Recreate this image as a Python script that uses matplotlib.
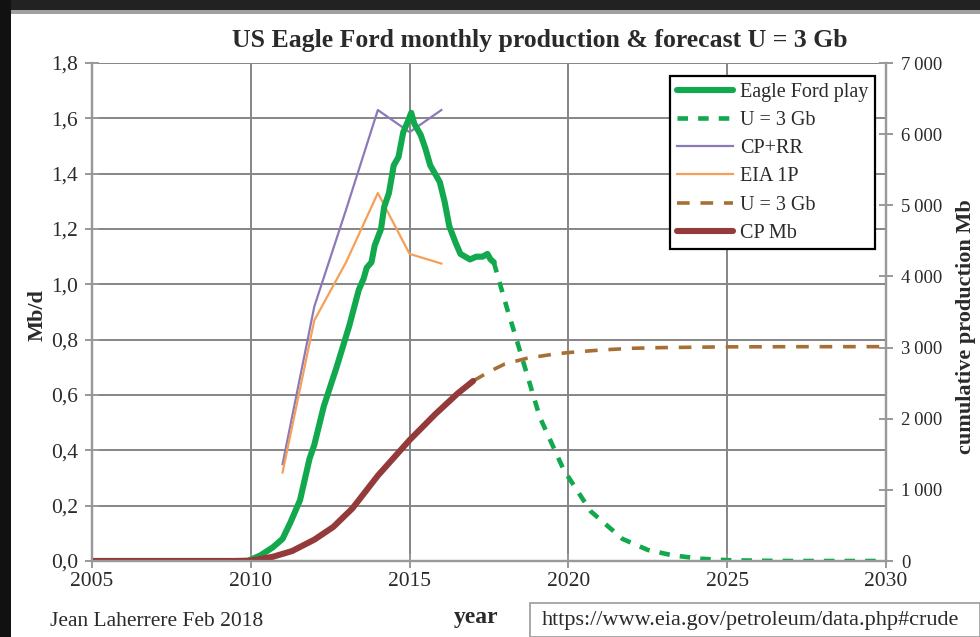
import matplotlib
matplotlib.use("Agg")
import matplotlib.pyplot as plt
from matplotlib.patches import Rectangle
from matplotlib.ticker import FuncFormatter

# ---------------- data ----------------
green_years = [2005.0, 2009.9, 2010.3, 2010.7, 2011.0, 2011.25, 2011.55, 2011.85, 2012.0,
               2012.3, 2012.7, 2013.1, 2013.4, 2013.55, 2013.65, 2013.8, 2013.9, 2014.0,
               2014.1, 2014.2, 2014.35, 2014.5, 2014.65, 2014.8, 2014.95, 2015.05, 2015.15,
               2015.35, 2015.5, 2015.65, 2015.8, 2015.95, 2016.1, 2016.25, 2016.45, 2016.6,
               2016.75, 2016.9, 2017.1, 2017.3, 2017.45, 2017.55, 2017.65]
green_vals = [0.0, 0.0, 0.02, 0.05, 0.08, 0.14, 0.22, 0.37, 0.42,
              0.56, 0.70, 0.85, 0.98, 1.02, 1.06, 1.08, 1.14, 1.17,
              1.20, 1.28, 1.33, 1.43, 1.46, 1.55, 1.59, 1.62, 1.58,
              1.54, 1.49, 1.43, 1.40, 1.37, 1.30, 1.21, 1.15, 1.11,
              1.10, 1.09, 1.10, 1.10, 1.11, 1.09, 1.08]

green_fc_years = [2017.65, 2018.05, 2018.5, 2019.1, 2019.85, 2020.7, 2021.7, 2022.5,
                  2023.3, 2024.2, 2025.0, 2026.0, 2027.0, 2028.0, 2029.0, 2030.0]
green_fc_vals = [1.08, 0.92, 0.75, 0.52, 0.33, 0.18, 0.08, 0.04,
                 0.02, 0.008, 0.003, 0.001, 0.0, 0.0, 0.0, 0.0]

rr_years = [2011, 2012, 2013, 2014, 2015, 2016]
cprr_vals = [0.35, 0.92, 1.27, 1.63, 1.55, 1.63]
eia1p_vals = [0.32, 0.87, 1.08, 1.33, 1.11, 1.075]

cp_years = [2005.0, 2009.5, 2010.0, 2010.7, 2011.3, 2012.0, 2012.6, 2013.2,
            2014.0, 2015.0, 2015.8, 2016.5, 2017.0]
cp_vals = [0, 0, 5, 60, 140, 300, 480, 740, 1200, 1700, 2060, 2350, 2530]

cp_fc_years = [2017.0, 2017.5, 2018.0, 2018.7, 2019.5, 2020.0, 2021.0, 2022.0,
               2023.0, 2025.0, 2027.0, 2030.0]
cp_fc_vals = [2530, 2660, 2770, 2850, 2905, 2930, 2965, 2990, 3000, 3010, 3012, 3013]

left_ticks = [0.0, 0.2, 0.4, 0.6, 0.8, 1.0, 1.2, 1.4, 1.6, 1.8]
right_ticks = [0, 1000, 2000, 3000, 4000, 5000, 6000, 7000]
x_ticks = [2005, 2010, 2015, 2020, 2025, 2030]

# ---------------- style ----------------
plt.rcParams['font.family'] = ['Liberation Serif', 'DejaVu Serif']
GREEN = '#12a84e'
PURPLE = '#8c7ab8'
ORANGE = '#f5a05a'
BROWN_D = '#a86f35'
DARKRED = '#943a3a'
GRID = '#858585'
TXT = '#2a2a2a'

fig = plt.figure(figsize=(9.8, 6.37), dpi=100)
W, H = 980, 637
ax = fig.add_axes([92 / W, 1 - 561 / H, (886 - 92) / W, (561 - 63) / H])
ax2 = ax.twinx()

ax.set_xlim(2005, 2030)
ax.set_ylim(0, 1.8)
ax2.set_ylim(0, 7000)

ax.set_xticks(x_ticks)
ax.set_yticks(left_ticks)
ax2.set_yticks(right_ticks)
ax.yaxis.set_major_formatter(FuncFormatter(lambda v, p: f"{v:.1f}".replace('.', ',')))
ax2.yaxis.set_major_formatter(FuncFormatter(
    lambda v, p: f"{int(v):,}".replace(',', '\u2009') if v >= 1000 else f"{int(v)}"))

ax.grid(True, color=GRID, linewidth=1.4)
ax.set_axisbelow(True)
for a in (ax, ax2):
    for s in a.spines.values():
        s.set_color('#999999')
        s.set_linewidth(1.6)
    a.spines['top'].set_visible(False)
ax.tick_params(axis='both', direction='inout', length=10, width=1.4, color='#999999',
               labelsize=15.5, labelcolor=TXT)
ax2.tick_params(axis='y', direction='inout', length=10, width=1.4, color='#999999',
                labelsize=13.5, labelcolor=TXT, pad=6)
ax.tick_params(axis='x', pad=3)
ax.tick_params(axis='y', pad=5)

# lines
l_g, = ax.plot(green_years, green_vals, color=GREEN, lw=4.4, solid_capstyle='round',
               label='Eagle Ford play', zorder=4)
l_gf, = ax.plot(green_fc_years, green_fc_vals, color=GREEN, lw=3.3, ls=(0, (2.3, 2.2)),
                label='U = 3 Gb', zorder=4)
l_p, = ax.plot(rr_years, cprr_vals, color=PURPLE, lw=1.6, label='CP+RR', zorder=3)
l_o, = ax.plot(rr_years, eia1p_vals, color=ORANGE, lw=1.6, label='EIA 1P', zorder=3)
l_bf, = ax2.plot(cp_fc_years, cp_fc_vals, color=BROWN_D, lw=2.6, ls=(0, (3.5, 3)),
                 label='U = 3 Gb')
l_cp, = ax2.plot(cp_years, cp_vals, color=DARKRED, lw=4.4, solid_capstyle='round',
                 label='CP Mb')

leg = ax2.legend(handles=[l_g, l_gf, l_p, l_o, l_bf, l_cp], loc='upper right',
                 bbox_to_anchor=(0.986, 0.973), fontsize=14.5, frameon=True, fancybox=False,
                 framealpha=1, edgecolor='black', handlelength=2.8, handletextpad=0.35,
                 labelspacing=0.45, borderpad=0.32, borderaxespad=0)
leg.get_frame().set_linewidth(1.6)
for t in leg.get_texts():
    t.set_color(TXT)

# axis titles placed as figure text at the reference positions
fig.text(38 / W, 1 - 315 / H, 'Mb/d', rotation=90, ha='center', va='center',
         fontsize=16, fontweight='bold', color=TXT)
fig.text(966 / W, 1 - 327 / H, 'cumulative production Mb', rotation=90, ha='center',
         va='center', fontsize=16, fontweight='bold', color=TXT)

fig.text(540 / W, 1 - 40 / H, 'US Eagle Ford monthly production & forecast U = 3 Gb',
         ha='center', va='center', fontsize=18.5, fontweight='bold', color=TXT)
fig.text(50 / W, 1 - 622 / H, 'Jean Laherrere Feb 2018', ha='left', va='center',
         fontsize=15.5, color=TXT)
fig.text(476 / W, 1 - 617 / H, 'year', ha='center', va='center', fontsize=17,
         fontweight='bold', color=TXT)
fig.patches.append(Rectangle((530 / W, 0), (W - 530) / W, (637 - 603) / H,
                             transform=fig.transFigure, facecolor='white',
                             edgecolor='#999999', linewidth=1.2))
fig.text(542 / W, 1 - 620 / H, 'https://www.eia.gov/petroleum/data.php#crude',
         ha='left', va='center', fontsize=16, color=TXT)

# frame decoration of the screenshot
fig.patches.append(Rectangle((0, 1 - 10 / H), 1, 10 / H, transform=fig.transFigure,
                             facecolor='#222222', edgecolor='none'))
fig.patches.append(Rectangle((0, 1 - 14 / H), 1, 4 / H, transform=fig.transFigure,
                             facecolor='#a0a0a0', edgecolor='none'))
fig.patches.append(Rectangle((0, 0), 11 / W, 1, transform=fig.transFigure,
                             facecolor='#111111', edgecolor='none'))

fig.savefig('out.png', dpi=100)
